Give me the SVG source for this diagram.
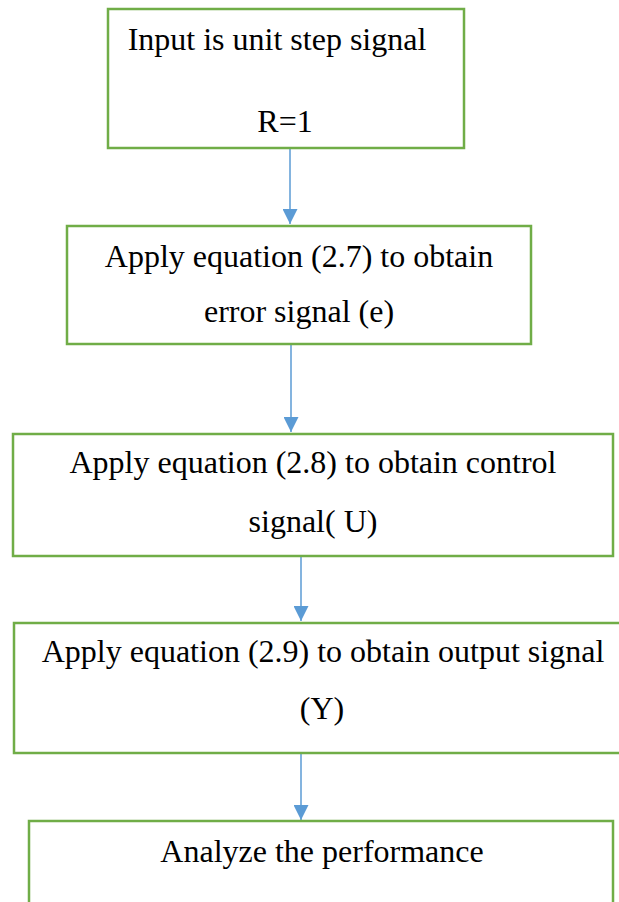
<svg xmlns="http://www.w3.org/2000/svg" width="619" height="902" viewBox="0 0 619 902">
  <style>
    .box { fill: #ffffff; stroke: #70AD47; stroke-width: 2.5; }
    .lbl { font-family: "Liberation Serif", "Times New Roman", serif; font-size: 32px; fill: #000000; text-anchor: middle; }
    .conn { stroke: #5B9BD5; stroke-width: 1.5; fill: none; marker-end: url(#arrow); }
  </style>
  <defs>
    <marker id="arrow" markerUnits="userSpaceOnUse" markerWidth="15" markerHeight="15" refX="15" refY="7.5" orient="auto">
      <path d="M0,0 L15,7.5 L0,15 Z" fill="#5B9BD5"/>
    </marker>
  </defs>
  <rect width="619" height="902" fill="#ffffff"/>
  <g id="connectors">
    <line class="conn" x1="290" y1="148" x2="290" y2="224"/>
    <line class="conn" x1="291" y1="344" x2="291" y2="432"/>
    <line class="conn" x1="301" y1="556" x2="301" y2="621"/>
    <line class="conn" x1="301" y1="753" x2="301" y2="820"/>
  </g>
  <g id="node1">
    <rect class="box" x="108" y="9" width="356" height="139"/>
    <text class="lbl" x="277" y="50">Input is unit step signal</text>
    <text class="lbl" x="285" y="132">R=1</text>
  </g>
  <g id="node2">
    <rect class="box" x="67" y="226" width="464" height="118"/>
    <text class="lbl" x="299" y="267">Apply equation (2.7) to obtain</text>
    <text class="lbl" x="299" y="322">error signal (e)</text>
  </g>
  <g id="node3">
    <rect class="box" x="13" y="434" width="600" height="122"/>
    <text class="lbl" x="313" y="473">Apply equation (2.8) to obtain control</text>
    <text class="lbl" x="313" y="532">signal( U)</text>
  </g>
  <g id="node4">
    <rect class="box" x="14" y="623" width="620" height="130"/>
    <text class="lbl" x="323" y="662">Apply equation (2.9) to obtain output signal</text>
    <text class="lbl" x="322" y="719">(Y)</text>
  </g>
  <g id="node5">
    <rect class="box" x="29" y="821" width="584" height="100"/>
    <text class="lbl" x="322" y="862">Analyze the performance</text>
  </g>
</svg>
